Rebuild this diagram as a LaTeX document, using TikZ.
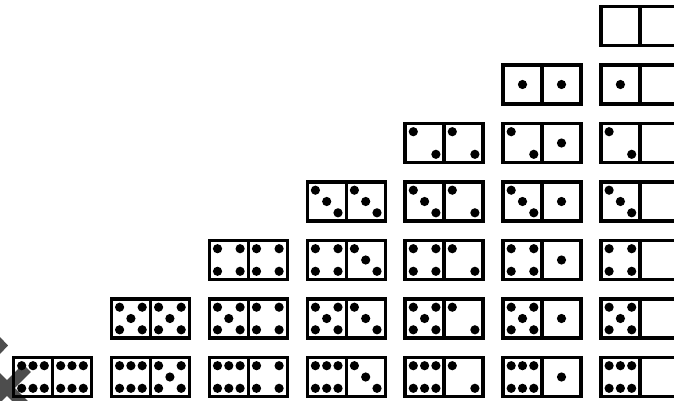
\documentclass[tikz,border=0pt]{standalone}
\tikzset{
  domino/.style={line width=3.4pt, line join=miter},
  pipdot/.style={fill=black},
  marker/.style={fill=xgrey, draw=none}
}
\definecolor{xgrey}{HTML}{4D4D4D}
\newcommand\dpip[2]{\fill[pipdot] (#1,#2) circle[radius=4.6pt];}
\def\po{11.3}
\newcommand\dhalf[3]{%
  \ifcase#3\relax
  \or \dpip{#1}{#2}
  \or \dpip{#1-\po}{#2-\po}\dpip{#1+\po}{#2+\po}
  \or \dpip{#1-\po}{#2-\po}\dpip{#1}{#2}\dpip{#1+\po}{#2+\po}
  \or \dpip{#1-\po}{#2-\po}\dpip{#1+\po}{#2-\po}\dpip{#1-\po}{#2+\po}\dpip{#1+\po}{#2+\po}
  \or \dpip{#1-\po}{#2-\po}\dpip{#1+\po}{#2-\po}\dpip{#1-\po}{#2+\po}\dpip{#1+\po}{#2+\po}\dpip{#1}{#2}
  \or \dpip{#1-\po}{#2-\po}\dpip{#1}{#2-\po}\dpip{#1+\po}{#2-\po}\dpip{#1-\po}{#2+\po}\dpip{#1}{#2+\po}\dpip{#1+\po}{#2+\po}
  \fi}
\begin{document}
\begin{tikzpicture}[x=1pt,y=-1pt]
\useasboundingbox (0,0) rectangle (674,401);
\fill[white] (0,0) rectangle (674,401);
\clip (0,0) rectangle (674,401);
% grey cross artefact
\fill[marker] (0,337) -- (8,345.5) -- (0,354) -- cycle;
\draw[xgrey, line width=11pt] (-15,366) -- (29,410);
\draw[xgrey, line width=11pt] (-15,410) -- (27,368);
% dominoes
\foreach \r in {0,...,6}{
  \pgfmathtruncatemacro\cstart{6-\r}
  \foreach \c in {\cstart,...,6}{
    \pgfmathsetmacro\x{13.5+97.9*\c}
    \pgfmathsetmacro\y{6.5+58.5*\r}
    \pgfmathtruncatemacro\rv{6-\c}
    \draw[domino] (\x,\y) rectangle ++(78,39);
    \draw[domino] (\x+39,\y) -- ++(0,39);
    \dhalf{\x+19.5}{\y+19.5}{\r}
    \dhalf{\x+58.5}{\y+19.5}{\rv}
  }
}
\end{tikzpicture}
\end{document}
